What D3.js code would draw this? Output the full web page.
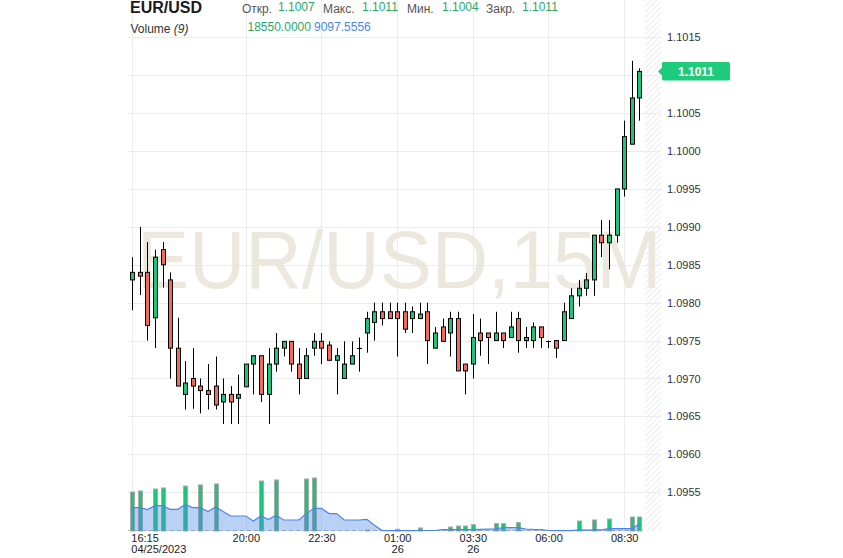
<!DOCTYPE html>
<html><head><meta charset="utf-8">
<script src="https://cdn.jsdelivr.net/npm/d3@7"></script>
<style>body{margin:0;background:#fff}svg{display:block}</style>
</head><body><svg id="c" width="843" height="558"></svg>
<script>
// ---- data ----
const opens=[1.0983,1.0984,1.0984,1.0978,1.0987,1.0983,1.0974,1.09679,1.0970,1.0969,
1.09684,1.0969,1.09669,1.09679,1.09674,1.09689,1.09719,1.0973,1.09679,1.09719,
1.0974,1.09749,1.09719,1.0970,1.0974,1.09749,1.09744,1.09724,1.0970,1.09719,
1.0974,1.0976,1.09774,1.09788,1.09788,1.09788,1.09788,1.09779,1.09779,1.09788,
1.0974,1.09768,1.0976,1.09779,1.09719,1.09719,1.0976,1.0976,1.0975,1.0976,
1.09754,1.09779,1.0975,1.0975,1.09768,1.0975,1.0975,1.0975,1.09779,1.09809,
1.09819,1.0983,1.09889,1.09879,1.09889,1.0995,1.10009,1.1007];
const highs=[1.0986,1.0990,1.0988,1.0987,1.0988,1.0984,1.0978,1.09723,1.0974,1.0970,
1.09719,1.09729,1.0970,1.0969,1.09705,1.09719,1.0973,1.0973,1.0974,1.0976,
1.09749,1.09749,1.0974,1.0974,1.0976,1.0976,1.09749,1.0974,1.09749,1.09749,
1.09754,1.09788,1.0980,1.0980,1.0980,1.0980,1.0980,1.09795,1.0980,1.0980,
1.09768,1.09779,1.09788,1.09788,1.09719,1.09785,1.09779,1.0976,1.09788,1.0976,
1.09788,1.09788,1.09768,1.09774,1.09768,1.0975,1.0975,1.0980,1.09819,1.0983,
1.09839,1.09889,1.09909,1.09909,1.0995,1.1004,1.10119,1.10109];
const lows=[1.0979,1.0981,1.0975,1.0974,1.0982,1.0970,1.0969,1.09659,1.0966,1.09654,
1.09659,1.09659,1.0964,1.0964,1.0964,1.09689,1.09679,1.09669,1.0964,1.09709,
1.09729,1.09709,1.09679,1.0970,1.0973,1.09719,1.09724,1.09679,1.0970,1.09719,
1.09709,1.09734,1.0975,1.0977,1.09779,1.09729,1.0976,1.0976,1.09779,1.09719,
1.0974,1.09749,1.09729,1.0971,1.09679,1.0970,1.0973,1.09719,1.0975,1.0974,
1.09754,1.09734,1.0974,1.0974,1.0974,1.0974,1.09727,1.0975,1.09779,1.09795,
1.09809,1.09809,1.0986,1.09844,1.09879,1.0994,1.10009,1.1004];
const closes=[1.0984,1.09835,1.0977,1.0986,1.0985,1.0974,1.0969,1.09694,1.0969,1.09684,
1.09679,1.09665,1.09679,1.09669,1.09679,1.09719,1.0973,1.09679,1.09719,1.0974,
1.09749,1.09719,1.0970,1.0973,1.09749,1.0974,1.09724,1.0973,1.09719,1.0973,
1.0974,1.09779,1.09788,1.09779,1.09779,1.09779,1.09765,1.09788,1.09785,1.0975,
1.0976,1.09749,1.09779,1.0971,1.0971,1.09754,1.0975,1.09754,1.0976,1.0975,
1.09768,1.0975,1.09754,1.09768,1.09754,1.0975,1.0974,1.09788,1.09809,1.09819,
1.0983,1.09889,1.09879,1.09889,1.0995,1.10019,1.1007,1.10105];
const volumes=[51700,53000,0,55650,57000,0,0,59600,0,61000,
0,62300,0,0,0,0,0,66250,0,67600,
0,0,0,68900,70200,0,0,0,0,0,
0,1300,0,0,0,2300,0,0,4000,0,
0,0,5300,6600,6600,8500,0,0,9800,9800,
0,11100,0,0,0,0,0,0,0,13250,
0,14600,0,15900,0,0,18550,18550];
const volumeMA=[31000,31000,28350,33650,33650,28750,28750,35000,31000,31000,
25700,31800,25700,19900,19900,19900,13250,19900,15100,20800,
14600,14600,14600,23050,30100,30100,23050,23050,14600,14600,
14600,15500,7550,530,530,530,530,530,660,660,
660,1850,1850,1850,1850,1850,2100,2400,2650,4500,
4500,4500,2650,2100,1850,660,400,400,530,1600,
1060,1600,1600,3050,3050,3050,3050,9097.56];
const priceTicks=[1.0955,1.0960,1.0965,1.0970,1.0975,1.0980,1.0985,1.0990,1.0995,1.1000,1.1005,1.1010,1.1015];
const hiddenTickLabels=[1.1010]; // covered by the last-price badge
const tickIndex=[0,15,25,35,45,55,65];
const tickTime=["16:15","20:00","22:30","01:00","03:30","06:00","08:30"];
const tickDate=["04/25/2023","","","26","26","",""];
const symbol="EUR/USD";
const ohlcNames=["Откр.","Макс.","Мин.","Закр."];
const ohlcValues=["1.1007","1.1011","1.1004","1.1011"];
const volHeader=["18550.0000","9097.5556"];
const lastLabel="1.1011";

// ---- drawing ----
const FONT="'Liberation Sans', Arial, sans-serif";
const GREEN="#1cc57b", RED="#f26a5c";
const svg=d3.select("#c").style("font-family",FONT);
const idx=d3.range(opens.length);
const x=d3.scaleLinear().domain([0,opens.length-1]).range([132.3,639.3]);
const y=d3.scaleLinear().domain([1.0960,1.1015]).range([454.3,37.3]);
const vy=d3.scaleLinear().domain([0,80000]).range([531,531-80000/1325]);
const L=128,R=661,B=531;
const px=v=>Math.round(v)+0.5;

// hatch pattern
const defs=svg.append("defs");
const pat=defs.append("pattern").attr("id","hatch").attr("patternUnits","userSpaceOnUse")
 .attr("width",4).attr("height",4).attr("patternTransform","rotate(45)");
pat.append("rect").attr("width",4).attr("height",4).attr("fill","#fff");
pat.append("line").attr("x1",0).attr("y1",0).attr("x2",0).attr("y2",4).attr("stroke","#e6e6e6").attr("stroke-width",1.5);
svg.append("rect").attr("x",645).attr("y",0).attr("width",R-645).attr("height",B).attr("fill","url(#hatch)");

// grid
svg.append("g").selectAll("line").data(priceTicks).join("line")
 .attr("x1",L).attr("x2",R).attr("y1",d=>px(y(d))).attr("y2",d=>px(y(d)))
 .attr("stroke","#ececec");
svg.append("g").selectAll("line").data(tickIndex).join("line")
 .attr("x1",d=>px(x(d))).attr("x2",d=>px(x(d))).attr("y1",0).attr("y2",B)
 .attr("stroke","#ececec");

// watermark (scaled horizontally so it ends before the axis labels)
svg.append("text").attr("transform","translate(137,288) scale(0.963,1)").attr("font-size",81)
 .attr("fill","#e9e4d8").attr("fill-opacity",0.85).text(symbol+",15M");

// volume
svg.append("line").attr("x1",L).attr("x2",645).attr("y1",530.5).attr("y2",530.5)
 .attr("stroke","#bbb").attr("stroke-dasharray","4,3");
svg.append("g").selectAll("rect").data(idx.filter(i=>volumes[i]>0)).join("rect")
 .attr("x",i=>Math.round(x(i))-1.5).attr("width",4)
 .attr("y",i=>vy(volumes[i])).attr("height",i=>B-vy(volumes[i]))
 .attr("fill",GREEN).attr("stroke","#aaa").attr("stroke-width",1);
const area=d3.area().x(i=>x(i)).y0(B).y1(i=>vy(volumeMA[i]));
svg.append("path").datum(idx).attr("d",area).attr("fill","#4a86e8").attr("fill-opacity",0.38);
svg.append("path").datum(idx).attr("d",d3.line().x(i=>x(i)).y(i=>vy(volumeMA[i])))
 .attr("fill","none").attr("stroke","#4a86e8").attr("stroke-width",1.2);

// candles
const cg=svg.append("g");
idx.forEach(i=>{
  const cx=Math.round(x(i));
  const o=opens[i],c=closes[i];
  cg.append("line").attr("x1",cx+0.5).attr("x2",cx+0.5).attr("y1",y(highs[i])).attr("y2",y(lows[i]))
    .attr("stroke","#000").attr("stroke-width",1);
  if(o===c){
    cg.append("line").attr("x1",cx-2).attr("x2",cx+3).attr("y1",px(y(o))).attr("y2",px(y(o)))
      .attr("stroke","#000");
  } else {
    const top=y(Math.max(o,c)),bot=y(Math.min(o,c));
    cg.append("rect").attr("x",cx-1.5).attr("width",4).attr("y",top).attr("height",Math.max(bot-top,1))
      .attr("fill",c>o?GREEN:RED).attr("stroke","#000").attr("stroke-width",1);
  }
});

// price axis
const fmt=d3.format(".4f");
const ya=svg.append("g").attr("transform","translate(664,0)")
 .call(d3.axisRight(y).tickValues(priceTicks.filter(d=>!hiddenTickLabels.includes(d))).tickFormat(fmt).tickSize(0));
ya.select(".domain").remove();
ya.selectAll("text").attr("x",3).attr("font-size",11).attr("fill","#333").attr("font-family",FONT);

// last price badge
const ly=y(closes[closes.length-1]);
svg.append("path").attr("d",`M658,${ly} L662,${ly-4} L662,${ly-8.5} Q662,${ly-9.5} 664,${ly-9.5} L728,${ly-9.5} Q730,${ly-9.5} 730,${ly-7.5} L730,${ly+7.5} Q730,${ly+9} 728,${ly+9} L664,${ly+9} Q662,${ly+9} 662,${ly+7.5} L662,${ly+4} Z`)
 .attr("fill","#1ecb7b");
svg.append("text").attr("x",696).attr("y",ly+4.5).attr("text-anchor","middle")
 .attr("font-size",12).attr("font-weight","bold").attr("fill","#fff").text(lastLabel);

// time axis
const xa=svg.append("g").attr("transform",`translate(0,${B})`)
 .call(d3.axisBottom(x).tickValues(tickIndex).tickFormat((d,i)=>tickTime[i]).tickSize(0));
xa.select(".domain").remove();
xa.selectAll("text").attr("font-size",11).attr("fill","#222").attr("font-family",FONT).attr("y",3.5)
 .attr("text-anchor",(d,i)=>i===0?"start":"middle").attr("dx",(d,i)=>i===0?"-1.5":"0");
xa.selectAll(".tick").append("text").attr("y",14).attr("dy","0.71em")
 .attr("font-size",11).attr("fill","#222").attr("font-family",FONT)
 .attr("text-anchor",(d,i)=>i===0?"start":"middle").attr("dx",(d,i)=>i===0?"-1.5":"0")
 .text((d,i)=>tickDate[i]);

// header
svg.append("text").attr("x",130).attr("y",13).attr("font-size",16).attr("font-weight","bold")
 .attr("fill","#1a1a1a").text(symbol);
const nameX=[242,323,407,486], valX=[278,362,442,522];
ohlcNames.forEach((n,i)=>{
  svg.append("text").attr("x",nameX[i]).attr("y",12.5).attr("font-size",12).attr("fill","#555").text(n);
  svg.append("text").attr("x",valX[i]).attr("y",10.5).attr("font-size",12).attr("fill","#1fa868").text(ohlcValues[i]);
});
const vt=svg.append("text").attr("x",130.5).attr("y",33).attr("font-size",12).attr("fill","#333");
vt.append("tspan").text("Volume ");
vt.append("tspan").attr("font-style","italic").text("(9)");
svg.append("text").attr("x",247.5).attr("y",31).attr("font-size",12).attr("fill","#1fa868").text(volHeader[0]);
svg.append("text").attr("x",314).attr("y",31).attr("font-size",12).attr("fill","#4a86e8").text(volHeader[1]);
</script></body></html>
